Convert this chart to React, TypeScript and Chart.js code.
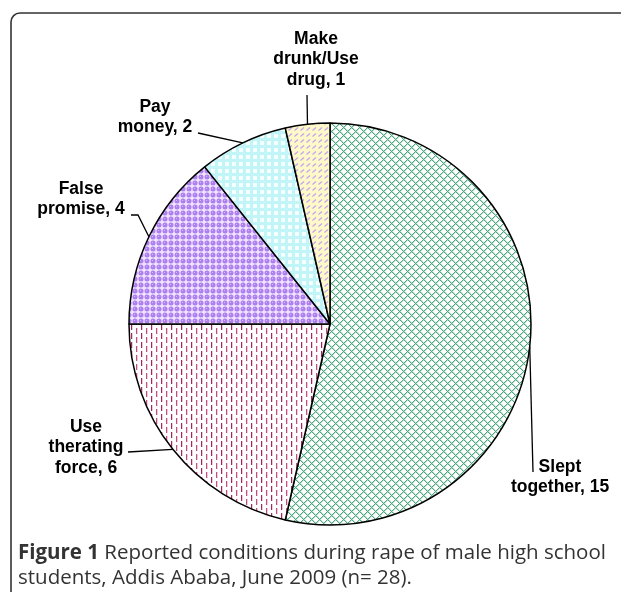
import { useEffect, useRef } from 'react';
import { Chart, registerables } from 'chart.js';
Chart.register(...registerables);

const categories: string[][] = [
  ['Slept', 'together'],
  ['Use', 'therating', 'force'],
  ['False', 'promise'],
  ['Pay', 'money'],
  ['Make', 'drunk/Use', 'drug'],
];
const values = [15, 6, 4, 2, 1];
const captionBold = 'Figure 1';
const captionLines = [
  'Reported conditions during rape of male high school',
  'students, Addis Ababa, June 2009 (n= 28).',
];

function makeTile(w: number, h: number, draw: (x: CanvasRenderingContext2D) => void) {
  const c = document.createElement('canvas');
  c.width = w;
  c.height = h;
  const x = c.getContext('2d')!;
  draw(x);
  return c;
}

function buildPatterns(ctx: CanvasRenderingContext2D) {
  const green = makeTile(8, 8, (x) => {
    x.fillStyle = '#ffffff';
    x.fillRect(0, 0, 8, 8);
    const dark = [[0, 0], [1, 1], [2, 2], [3, 3], [4, 2], [5, 1], [6, 0], [4, 4], [5, 5], [6, 6], [7, 7], [0, 6], [1, 5], [2, 4]];
    x.fillStyle = '#4ea77e';
    dark.forEach(([a, b]) => x.fillRect(a, b, 1, 1));
    x.fillStyle = '#b9e2cf';
    dark.forEach(([a, b]) => x.fillRect((a + 1) % 8, b, 1, 1));
  });
  const pink = makeTile(10, 9, (x) => {
    x.fillStyle = '#ffffff';
    x.fillRect(0, 0, 10, 9);
    x.fillStyle = '#a8245f';
    x.fillRect(1, 0, 1, 6);
    x.fillStyle = '#bf4f7f';
    x.fillRect(6, 4, 1, 5);
    x.fillRect(6, 0, 1, 1);
    x.fillStyle = '#eccbdb';
    x.fillRect(2, 0, 1, 6);
    x.fillRect(7, 4, 1, 5);
    x.fillRect(7, 0, 1, 1);
  });
  const purple = makeTile(6, 6, (x) => {
    x.fillStyle = '#efe3fd';
    x.fillRect(0, 0, 6, 6);
    x.fillStyle = '#ad7ff0';
    x.beginPath();
    x.arc(3, 3, 2.5, 0, Math.PI * 2);
    x.fill();
    x.fillStyle = '#d6bdf9';
    x.fillRect(2, 2, 1, 1);
  });
  const cyan = makeTile(7, 7, (x) => {
    x.fillStyle = '#c2f5f8';
    x.fillRect(0, 0, 7, 7);
    x.fillStyle = '#f6ffff';
    x.fillRect(1, 1, 4, 4);
  });
  const yellow = makeTile(6, 6, (x) => {
    x.fillStyle = '#fff8c8';
    x.fillRect(0, 0, 6, 6);
    x.strokeStyle = '#bfa6ee';
    x.lineWidth = 1.2;
    x.beginPath();
    x.moveTo(0.5, 4.5);
    x.lineTo(4, 1.5);
    x.stroke();
  });
  return [green, pink, purple, cyan, yellow].map((t) => ctx.createPattern(t, 'repeat'));
}

const labelLayout = [
  { cx: 560, cy: 467, leader: [[533, 472]] },
  { cx: 86, cy: 427, leader: [[128, 452]] },
  { cx: 81, cy: 189, leader: [[138, 215], [131, 215]] },
  { cx: 155, cy: 107, leader: [[198, 133]] },
  { cx: 316, cy: 39, leader: [[307, 95]] },
];

const decorPlugin = {
  id: 'decor',
  beforeDraw(chart: any) {
    const ctx = chart.ctx;
    ctx.save();
    ctx.fillStyle = '#ffffff';
    ctx.fillRect(0, 0, chart.width, chart.height);
    ctx.strokeStyle = '#333333';
    ctx.lineWidth = 1.6;
    const x0 = 11, y0 = 13, r = 9;
    ctx.beginPath();
    ctx.moveTo(x0, chart.height + 20);
    ctx.lineTo(x0, y0 + r);
    ctx.arcTo(x0, y0, x0 + r, y0, r);
    ctx.lineTo(chart.width + 20, y0);
    ctx.stroke();
    ctx.restore();
  },
  afterDatasetsDraw(chart: any) {
    const ctx = chart.ctx;
    const meta = chart.getDatasetMeta(0);
    ctx.save();
    ctx.strokeStyle = '#000';
    ctx.lineWidth = 1.3;
    ctx.fillStyle = '#000';
    ctx.font = 'bold 17.5px "Liberation Sans", Arial, sans-serif';
    ctx.textAlign = 'center';
    ctx.textBaseline = 'middle';
    meta.data.forEach((arc: any, i: number) => {
      const p = arc.getProps(['x', 'y', 'startAngle', 'endAngle', 'outerRadius'], true);
      const mid = (p.startAngle + p.endAngle) / 2;
      const ex = p.x + Math.cos(mid) * p.outerRadius;
      const ey = p.y + Math.sin(mid) * p.outerRadius;
      const L = labelLayout[i];
      ctx.beginPath();
      ctx.moveTo(ex, ey);
      L.leader.forEach(([px, py]) => ctx.lineTo(px, py));
      ctx.stroke();
      const lines = categories[i].slice();
      lines[lines.length - 1] = lines[lines.length - 1] + ', ' + values[i];
      lines.forEach((t, k) => ctx.fillText(t, L.cx, L.cy + k * 20.5));
    });
    ctx.restore();
  },
  afterDraw(chart: any) {
    const ctx = chart.ctx;
    ctx.save();
    ctx.fillStyle = '#333333';
    ctx.textBaseline = 'middle';
    ctx.textAlign = 'left';
    const fam = '"Open Sans", "Noto Sans", sans-serif';
    ctx.font = `bold 100px ${fam}`;
    const wb = ctx.measureText(captionBold + ' ').width;
    ctx.font = `100px ${fam}`;
    const wr = ctx.measureText(captionLines[0]).width;
    const size = (588 / (wb + wr)) * 100;
    ctx.font = `bold ${size}px ${fam}`;
    ctx.fillText(captionBold + ' ', 18, 553);
    const bw = ctx.measureText(captionBold + ' ').width;
    ctx.font = `${size}px ${fam}`;
    ctx.fillText(captionLines[0], 18 + bw, 553);
    ctx.fillText(captionLines[1], 18, 578);
    ctx.restore();
  },
};

export default function App() {
  const ref = useRef<HTMLCanvasElement>(null);
  useEffect(() => {
    document.body.style.margin = '0';
    const canvas = ref.current!;
    const ctx = canvas.getContext('2d')!;
    const patterns = buildPatterns(ctx);
    const chart = new Chart(canvas, {
      type: 'pie',
      data: {
        labels: categories.map((c) => c.join(' ')),
        datasets: [
          {
            data: values,
            backgroundColor: patterns as any,
            borderColor: '#000000',
            borderWidth: 1.5,
            hoverOffset: 0,
          },
        ],
      },
      options: {
        responsive: false,
        animation: false,
        rotation: 0,
        layout: { padding: { left: 128.25, top: 122.25, right: 89.25, bottom: 66.25 } },
        plugins: { legend: { display: false }, tooltip: { enabled: false } },
        events: [],
      },
      plugins: [decorPlugin],
    });
    return () => chart.destroy();
  }, []);
  return (
    <div style={{ width: 621, height: 592 }}>
      <canvas ref={ref} width={621} height={592} style={{ display: 'block', width: 621, height: 592 }} />
    </div>
  );
}
